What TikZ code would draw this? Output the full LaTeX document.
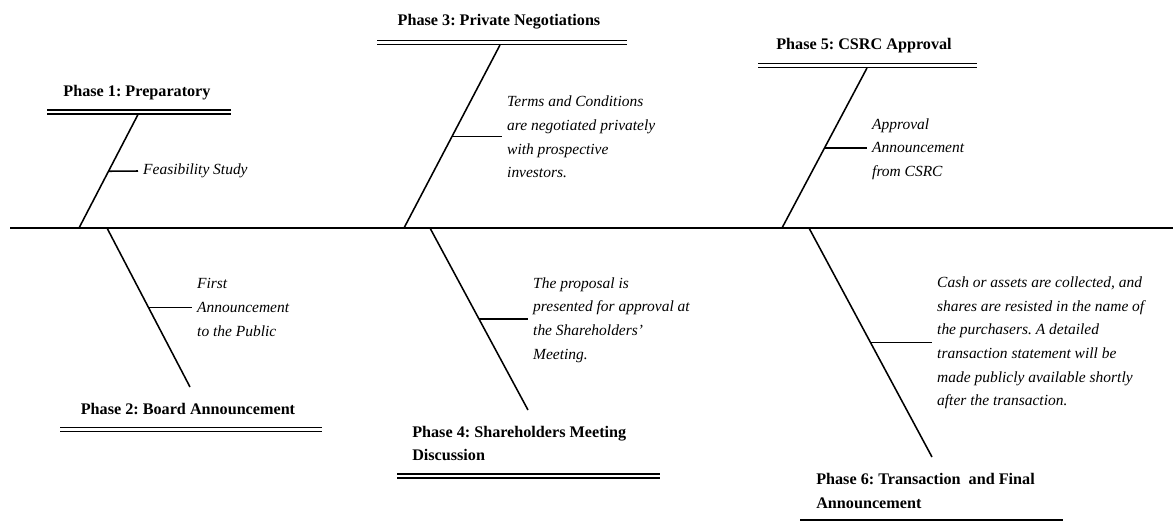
\documentclass[tikz,border=0pt]{standalone}
\usepackage{fontspec}
\setmainfont{Liberation Serif}
\usepackage{xcolor}
\usepackage{tikz}
\frenchspacing

\begin{document}
\begin{tikzpicture}[x=0.025cm,y=-0.025cm,
  bone/.style={line width=1.1pt},
  head/.style={line width=1pt,double,double distance=2pt},
  phase/.style={font=\bfseries\fontsize{11.5}{16.5}\selectfont,inner sep=0pt,align=left},
  cause/.style={font=\itshape\fontsize{11}{16.8}\selectfont,align=left,anchor=west,inner xsep=3.5pt,inner ysep=0pt}]

\useasboundingbox (0,0) rectangle (1173,522);

\coordinate (spineL) at (10,228);
\coordinate (spineR) at (1173,228);
\draw[line width=1.3pt] (spineL) -- (spineR);
%%% Phase 1
\node[phase] (P1) at (137,93) {Phase 1: Preparatory};
\coordinate (h1a) at (47,112);
\coordinate (h1b) at (231,112);
\draw[head] (h1a) -- (h1b);
\coordinate (b1a) at (138,114.5);
\coordinate (b1b) at (79,228);
\draw[bone] (b1a) -- (b1b) coordinate[midway] (s1);
\node[cause] (C1) at (138,171) {Feasibility Study};
\draw[bone] (s1) -- (C1.west);
%%% Phase 2
\node[phase] (P2) at (188,409) {Phase 2: Board Announcement};
\coordinate (h2a) at (60,429.5);
\coordinate (h2b) at (322,429.5);
\draw[head] (h2a) -- (h2b);
\coordinate (b2a) at (107,228);
\coordinate (b2b) at (190,387);
\draw[bone] (b2a) -- (b2b) coordinate[midway] (s2);
\node[cause] (C2) at (192,307.5) {First\\Announcement\\to the Public};
\draw[bone] (s2) -- (s2 -| C2.west);
%%% Phase 3
\node[phase] (P3) at (499,22) {Phase 3: Private Negotiations};
\coordinate (h3a) at (377,42.5);
\coordinate (h3b) at (627,42.5);
\draw[head] (h3a) -- (h3b);
\coordinate (b3a) at (500,45);
\coordinate (b3b) at (404,228);
\draw[bone] (b3a) -- (b3b) coordinate[midway] (s3);
\node[cause] (C3) at (502,137) {Terms and Conditions\\are negotiated privately\\with prospective\\investors.};
\draw[bone] (s3) -- (s3 -| C3.west);
%%% Phase 4
\node[phase,anchor=west] (P4) at (412,443.5) {Phase 4: Shareholders Meeting\\Discussion};
\coordinate (h4a) at (397,476);
\coordinate (h4b) at (660,476);
\draw[head] (h4a) -- (h4b);
\coordinate (b4a) at (430,228);
\coordinate (b4b) at (528,410);
\draw[bone] (b4a) -- (b4b) coordinate[midway] (s4);
\node[cause] (C4) at (528,320) {The proposal is\\presented for approval at\\the Shareholders'\\Meeting.};
\draw[bone] (s4) -- (s4 -| C4.west);
%%% Phase 5
\node[phase] (P5) at (864,46) {Phase 5: CSRC Approval};
\coordinate (h5a) at (758,65.5);
\coordinate (h5b) at (977,65.5);
\draw[head] (h5a) -- (h5b);
\coordinate (b5a) at (867,68);
\coordinate (b5b) at (782,228);
\draw[bone] (b5a) -- (b5b) coordinate[midway] (s5);
\node[cause] (C5) at (867,149) {Approval\\Announcement\\from CSRC};
\draw[bone] (s5) -- (s5 -| C5.west);
%%% Phase 6
\node[phase,anchor=west] (P6) at (816,491) {Phase 6: Transaction~ and Final\\Announcement};
\coordinate (h6a) at (800,520);
\coordinate (h6b) at (1063,520);
\draw[bone] (h6a) -- (h6b);
\coordinate (b6a) at (809,228);
\coordinate (b6b) at (932,457);
\draw[bone] (b6a) -- (b6b) coordinate[midway] (s6);
\node[cause] (C6) at (932,343) {Cash or assets are collected, and\\shares are resisted in the name of\\the purchasers. A detailed\\transaction statement will be\\made publicly available shortly\\after the transaction.};
\draw[bone] (s6) -- (s6 -| C6.west);
\end{tikzpicture}
\end{document}
